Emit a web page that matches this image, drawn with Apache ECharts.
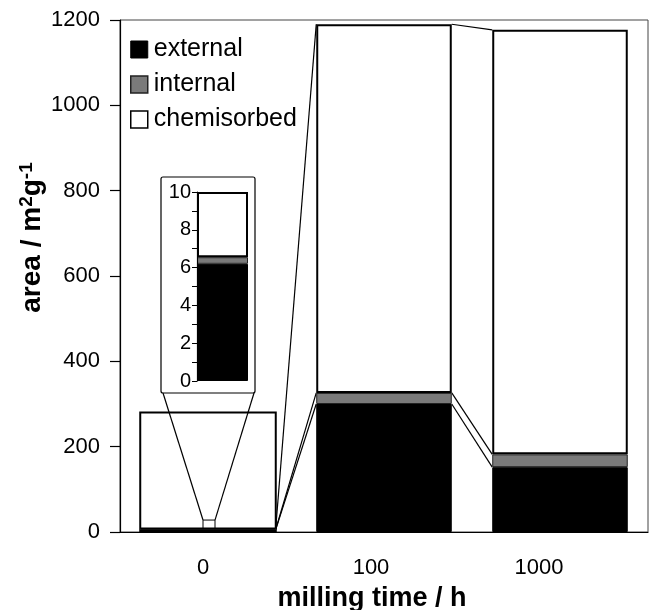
<!DOCTYPE html>
<html>
<head>
<meta charset="utf-8">
<script src="https://cdn.jsdelivr.net/npm/echarts@6/dist/echarts.min.js"></script>
<style>html,body{margin:0;padding:0;background:#fff;}#c{width:649px;height:610px;}</style>
</head>
<body>
<div id="c"></div>
<script>
// ---- data ----
const categories = ['0', '100', '1000'];
const external = [6.2, 300, 152];
const internal = [0.35, 26, 30];
const chemisorbed = [3.45, 864, 995];
const yTicks = [0, 200, 400, 600, 800, 1000, 1200];
const insetTicks = [0, 2, 4, 6, 8, 10];
const zoomBoxTop = 280;      // frame drawn around bar "0"
const zoomWindowTop = 28;    // small window that the inset magnifies

const FONT = "'Liberation Sans', Arial, sans-serif";
const BAR_FRAC = 0.77;
const INSET = { left: 197, top: 192, width: 51, height: 189 };

const chart = echarts.init(document.getElementById('c'));

function cum(i, level) {
  let v = external[i];
  if (level >= 2) v += internal[i];
  if (level >= 3) v += chemisorbed[i];
  return v;
}

const lineStyle = { stroke: '#000', lineWidth: 1.2, fill: null };

const option = {
  animation: false,
  backgroundColor: '#fff',
  textStyle: { fontFamily: FONT, color: '#000' },
  grid: [
    { left: 120, right: 1, top: 20, bottom: 78, show: true, borderColor: '#444', borderWidth: 1,
      containLabel: false, outerBoundsMode: 'none' },
    { left: INSET.left, top: INSET.top, width: INSET.width, height: INSET.height,
      containLabel: false, outerBoundsMode: 'none' }
  ],
  legend: {
    orient: 'vertical', left: 130, top: 37, padding: 0, itemWidth: 17, itemHeight: 17, itemGap: 10,
    textStyle: { fontSize: 25, color: '#000', fontFamily: FONT, padding: [0, 0, 0, 1] },
    data: [
      { name: 'external', icon: 'rect', itemStyle: { color: '#000', borderColor: '#000', borderWidth: 1 } },
      { name: 'internal', icon: 'rect', itemStyle: { color: '#7a7a7a', borderColor: '#222', borderWidth: 1.5 } },
      { name: 'chemisorbed', icon: 'rect', itemStyle: { color: '#fff', borderColor: '#000', borderWidth: 1.5 } }
    ]
  },
  xAxis: [
    {
      type: 'category', data: categories, gridIndex: 0,
      axisLine: { lineStyle: { color: '#000', width: 1.2 } },
      axisTick: { show: false },
      axisLabel: {
        fontSize: 22, color: '#000', margin: 25, fontFamily: FONT,
        formatter: (v, idx) => '{l' + idx + '|' + v + '}',
        rich: {
          l0: { fontSize: 22, fontFamily: FONT, padding: [0, 10, 0, 0] },
          l1: { fontSize: 22, fontFamily: FONT, padding: [0, 26, 0, 0] },
          l2: { fontSize: 22, fontFamily: FONT, padding: [0, 42, 0, 0] }
        }
      },
      name: 'milling time / h', nameLocation: 'middle', nameGap: 53,
      nameTextStyle: { fontSize: 27, fontWeight: 'bold', color: '#000', fontFamily: FONT, padding: [0, 24, 0, 0] }
    },
    {
      type: 'category', data: [categories[0]], gridIndex: 1,
      axisLine: { show: false }, axisTick: { show: false }, axisLabel: { show: false }
    }
  ],
  yAxis: [
    {
      type: 'value', gridIndex: 0, min: yTicks[0], max: yTicks[yTicks.length - 1], interval: 200,
      splitLine: { show: false },
      axisLine: { show: true, lineStyle: { color: '#000', width: 1.2 } },
      axisTick: { show: true, inside: false, length: 10, lineStyle: { color: '#000', width: 1.2 } },
      axisLabel: { fontSize: 22, color: '#000', margin: 20, fontFamily: FONT, formatter: v => String(v) },
      name: 'area / m{sup|2}g{sup|-1}', nameLocation: 'middle', nameGap: 72, nameMoveOverlap: false,
      nameTextStyle: {
        fontSize: 28, fontWeight: 'bold', color: '#000', fontFamily: FONT, padding: [0, 0, 0, 77],
        rich: { sup: { fontSize: 19, fontWeight: 'bold', verticalAlign: 'top', padding: [0, 0, 12, 0], fontFamily: FONT } }
      }
    },
    {
      type: 'value', gridIndex: 1, min: insetTicks[0], max: insetTicks[insetTicks.length - 1], interval: 1,
      z: 20,
      splitLine: { show: false },
      axisLine: { show: true, lineStyle: { color: '#000', width: 1.2 } },
      axisTick: { show: true, length: 5, lineStyle: { color: '#000', width: 1 } },
      axisLabel: {
        fontSize: 20, color: '#000', margin: 6, fontFamily: FONT, hideOverlap: false,
        formatter: v => (insetTicks.indexOf(v) >= 0 ? String(v) : '')
      }
    }
  ],
  series: [
    {
      type: 'custom', xAxisIndex: 0, yAxisIndex: 0, z: 1, silent: true,
      data: [[0], [1]],
      renderItem: function (params, api) {
        const i = params.dataIndex;
        const bw = api.size([1, 0])[0] * BAR_FRAC;
        const children = [];
        for (let lvl = 1; lvl <= 3; lvl++) {
          const a = api.coord([i, cum(i, lvl)]);
          const b = api.coord([i + 1, cum(i + 1, lvl)]);
          children.push({ type: 'line', shape: { x1: a[0] + bw / 2, y1: a[1], x2: b[0] - bw / 2, y2: b[1] }, style: lineStyle });
        }
        if (i === 0) {
          const c0 = api.coord([0, 0]);
          const cT = api.coord([0, zoomBoxTop]);
          children.push({ type: 'rect', shape: { x: c0[0] - bw / 2, y: cT[1], width: bw, height: c0[1] - cT[1] },
            style: { stroke: '#000', lineWidth: 2, fill: null }, z2: 5 });
          const w = api.coord([0, zoomWindowTop]);
          const sx0 = c0[0] - 5, sx1 = c0[0] + 7;
          children.push({ type: 'rect', shape: { x: sx0, y: w[1], width: sx1 - sx0, height: c0[1] - w[1] },
            style: { stroke: '#000', lineWidth: 1, fill: null } });
          const fx0 = INSET.left - 36, fx1 = INSET.left + INSET.width + 7;
          const fy0 = INSET.top - 15, fy1 = INSET.top + INSET.height + 12;
          children.push({ type: 'rect', shape: { x: fx0, y: fy0, width: fx1 - fx0, height: fy1 - fy0, r: 2 },
            style: { stroke: '#000', lineWidth: 1.2, fill: null } });
          children.push({ type: 'line', shape: { x1: fx0 + 2, y1: fy1, x2: sx0, y2: w[1] }, style: lineStyle });
          children.push({ type: 'line', shape: { x1: fx1 - 1, y1: fy1, x2: sx1, y2: w[1] }, style: lineStyle });
        }
        return { type: 'group', children: children };
      }
    },
    { name: 'external', type: 'bar', stack: 'm', xAxisIndex: 0, yAxisIndex: 0, barWidth: (BAR_FRAC * 100) + '%', z: 2,
      data: external, itemStyle: { color: '#000', borderColor: '#000', borderWidth: 1 } },
    { name: 'internal', type: 'bar', stack: 'm', xAxisIndex: 0, yAxisIndex: 0, barWidth: (BAR_FRAC * 100) + '%', z: 2,
      data: internal, itemStyle: { color: '#7a7a7a', borderColor: '#222', borderWidth: 1 } },
    { name: 'chemisorbed', type: 'bar', stack: 'm', xAxisIndex: 0, yAxisIndex: 0, barWidth: (BAR_FRAC * 100) + '%', z: 2,
      data: chemisorbed, itemStyle: { color: '#fff', borderColor: '#000', borderWidth: 2 } },
    { name: 'external', type: 'bar', stack: 'i', xAxisIndex: 1, yAxisIndex: 1, barWidth: '100%', z: 5,
      data: [external[0]], itemStyle: { color: '#000', borderColor: '#000', borderWidth: 1 } },
    { name: 'internal', type: 'bar', stack: 'i', xAxisIndex: 1, yAxisIndex: 1, barWidth: '100%', z: 5,
      data: [internal[0]], itemStyle: { color: '#7a7a7a', borderColor: '#222', borderWidth: 1 } },
    { name: 'chemisorbed', type: 'bar', stack: 'i', xAxisIndex: 1, yAxisIndex: 1, barWidth: '100%', z: 5,
      data: [chemisorbed[0]], itemStyle: { color: '#fff', borderColor: '#000', borderWidth: 2 } }
  ]
};
chart.setOption(option);
</script>
</body>
</html>
